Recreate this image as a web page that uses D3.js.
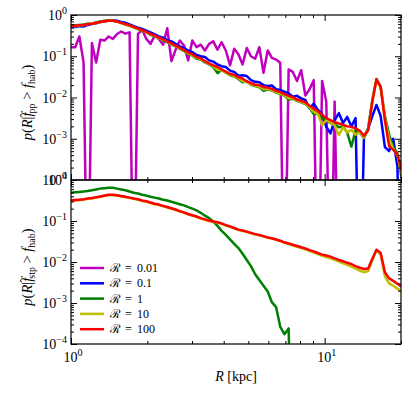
<!DOCTYPE html>
<html>
<head>
<meta charset="utf-8">
<script src="https://cdn.jsdelivr.net/npm/d3@7"></script>
<style>
  body { margin: 0; background: #fff; }
  svg { display: block; font-family: "Liberation Serif", "DejaVu Serif", serif; }
</style>
</head>
<body>
<svg id="chart" width="412" height="396"></svg>
<script>
// galactocentric radius grid, kpc
const radius = [
  1.000, 1.039, 1.079, 1.121, 1.164, 1.209, 1.256, 1.305, 1.355, 1.408,
  1.462, 1.519, 1.578, 1.639, 1.702, 1.768, 1.837, 1.908, 1.982, 2.059,
  2.138, 2.221, 2.307, 2.396, 2.489, 2.585, 2.685, 2.789, 2.897, 3.009,
  3.126, 3.247, 3.373, 3.503, 3.639, 3.780, 3.926, 4.078, 4.236, 4.400,
  4.571, 4.748, 4.932, 5.122, 5.321, 5.527, 5.741, 5.963, 6.194, 6.434,
  6.683, 6.942, 7.211, 7.490, 7.780, 8.082, 8.395, 8.720, 9.057, 9.408,
  9.772, 10.15, 10.54, 10.95, 11.38, 11.82, 12.27, 12.75, 13.24, 13.75,
  14.29, 14.84, 15.42, 16.01, 16.63, 17.28, 17.95, 18.64, 19.36, 20.11
];

// log10 of p(R | ...); null = zero probability
const ppR001 = [
  -0.78, -0.78, -0.52, -1.15, null, -0.68, -1.15, -0.60, -0.62, -0.52,
  -0.58, -0.46, -0.40, -0.45, -0.42, null, -0.46, -0.36, -0.58, -0.70,
  -0.50, -0.58, -0.72, -0.32, -1.12, -0.84, -0.62, -0.74, -1.10, -0.62,
  -0.78, -0.72, -0.86, -0.70, -0.64, -0.84, -0.66, -0.86, -1.22, -0.82,
  -0.95, -1.20, -0.80, -1.00, -1.06, -0.78, -1.40, -0.86, -1.04, -1.08,
  -1.16, null, -1.32, -1.38, -1.60, -1.34, -1.95, -1.80, -1.58, null,
  -1.60, -2.10, null, -2.10, null, null, null, null, null, null,
  null, null, null, null, null, null, null, null, null, null
];
const ppR01 = [
  -0.30, -0.29, -0.27, -0.28, -0.24, -0.22, -0.20, -0.17, -0.16, -0.13,
  -0.13, -0.14, -0.17, -0.19, -0.23, -0.27, -0.31, -0.34, -0.38, -0.42,
  -0.47, -0.52, -0.55, -0.61, -0.64, -0.70, -0.76, -0.80, -0.86, -0.90,
  -0.97, -1.00, -1.02, -1.10, -1.13, -1.20, -1.24, -1.26, -1.35, -1.38,
  -1.47, -1.46, -1.48, -1.58, -1.62, -1.63, -1.70, -1.72, -1.71, -1.80,
  -1.82, -1.86, -1.90, -1.98, -1.96, -2.02, -2.06, -2.26, -2.15, -2.30,
  -2.40, -2.71, -2.87, -2.55, -2.38, -2.62, -2.47, -2.70, -2.50, null,
  -2.95, -2.75, -2.45, -2.18, -2.45, -3.20, -3.30, -3.00, -3.68, null
];
const ppR1 = [
  -0.27, -0.25, -0.24, -0.23, -0.21, -0.21, -0.18, -0.16, -0.14, -0.13,
  -0.14, -0.16, -0.19, -0.23, -0.26, -0.30, -0.34, -0.39, -0.42, -0.48,
  -0.52, -0.56, -0.62, -0.66, -0.72, -0.76, -0.82, -0.87, -0.95, -0.98,
  -1.06, -1.08, -1.15, -1.20, -1.26, -1.41, -1.33, -1.40, -1.46, -1.49,
  -1.55, -1.63, -1.60, -1.69, -1.72, -1.75, -1.84, -1.80, -1.83, -1.88,
  -1.92, -1.95, -2.05, -2.03, -2.08, -2.12, -2.15, -2.25, -2.40, -2.38,
  -2.50, -2.55, -2.62, -2.65, -2.72, -2.70, -2.85, -3.19, -2.80, -2.85,
  -2.98, -2.75, -2.05, -1.55, -1.74, -2.45, -2.90, -3.20, -3.35, -3.95
];
const ppR10 = [
  -0.28, -0.27, -0.25, -0.25, -0.22, -0.21, -0.19, -0.17, -0.15, -0.14,
  -0.14, -0.16, -0.20, -0.23, -0.26, -0.30, -0.34, -0.38, -0.42, -0.47,
  -0.51, -0.56, -0.60, -0.65, -0.71, -0.75, -0.81, -0.86, -0.93, -0.97,
  -1.04, -1.07, -1.13, -1.19, -1.24, -1.33, -1.34, -1.39, -1.45, -1.48,
  -1.53, -1.60, -1.63, -1.68, -1.71, -1.74, -1.80, -1.79, -1.82, -1.87,
  -1.91, -1.94, -2.02, -2.02, -2.07, -2.11, -2.14, -2.24, -2.35, -2.40,
  -2.67, -2.55, -2.60, -2.68, -2.91, -2.72, -2.85, -2.78, -2.90, -2.84,
  -2.97, -2.78, -2.08, -1.57, -1.75, -2.50, -3.00, -3.25, -3.40, -3.85
];
const ppR100 = [
  -0.27, -0.26, -0.25, -0.24, -0.22, -0.21, -0.19, -0.17, -0.15, -0.14,
  -0.14, -0.16, -0.19, -0.22, -0.25, -0.29, -0.33, -0.37, -0.41, -0.46,
  -0.50, -0.55, -0.59, -0.64, -0.69, -0.74, -0.79, -0.85, -0.91, -0.95,
  -1.02, -1.05, -1.12, -1.17, -1.22, -1.26, -1.32, -1.37, -1.43, -1.45,
  -1.51, -1.54, -1.61, -1.65, -1.69, -1.70, -1.75, -1.76, -1.79, -1.84,
  -1.87, -1.92, -1.96, -1.99, -2.05, -2.08, -2.12, -2.20, -2.27, -2.33,
  -2.42, -2.50, -2.55, -2.60, -2.63, -2.66, -2.70, -2.71, -2.75, -2.80,
  -2.93, -2.80, -2.10, -1.56, -1.75, -2.55, -3.18, -3.27, -3.38, -3.78
];

const stpR1 = [
  -0.31, -0.30, -0.29, -0.28, -0.27, -0.25, -0.23, -0.21, -0.20, -0.19,
  -0.19, -0.21, -0.23, -0.25, -0.28, -0.31, -0.33, -0.36, -0.38, -0.41,
  -0.43, -0.45, -0.48, -0.50, -0.53, -0.56, -0.59, -0.62, -0.66, -0.70,
  -0.74, -0.80, -0.87, -0.93, -1.01, -1.12, -1.24, -1.34, -1.45, -1.56,
  -1.66, -1.80, -1.95, -2.10, -2.30, -2.44, -2.58, -2.72, -2.98, -3.10,
  -3.58, -3.76, -3.62, null, null, null, null, null, null, null,
  null, null, null, null, null, null, null, null, null, null,
  null, null, null, null, null, null, null, null, null, null
];
const stpR10 = [
  -0.51, -0.50, -0.49, -0.48, -0.46, -0.45, -0.43, -0.41, -0.39, -0.37,
  -0.37, -0.38, -0.40, -0.42, -0.44, -0.46, -0.48, -0.51, -0.53, -0.56,
  -0.59, -0.61, -0.64, -0.67, -0.70, -0.73, -0.77, -0.80, -0.84, -0.87,
  -0.90, -0.94, -0.97, -1.00, -1.02, -1.04, -1.07, -1.11, -1.14, -1.18,
  -1.22, -1.24, -1.27, -1.30, -1.33, -1.35, -1.38, -1.41, -1.43, -1.46,
  -1.49, -1.53, -1.56, -1.60, -1.63, -1.66, -1.69, -1.73, -1.77, -1.81,
  -1.85, -1.88, -1.91, -1.95, -1.99, -2.03, -2.07, -2.11, -2.16, -2.21,
  -2.25, -2.22, -1.95, -1.71, -1.82, -2.35, -2.52, -2.58, -2.65, -2.72
];
const stpR100 = [
  -0.50, -0.49, -0.48, -0.47, -0.45, -0.44, -0.42, -0.40, -0.38, -0.36,
  -0.36, -0.37, -0.39, -0.41, -0.43, -0.45, -0.47, -0.50, -0.52, -0.55,
  -0.58, -0.60, -0.63, -0.66, -0.69, -0.72, -0.76, -0.79, -0.83, -0.86,
  -0.89, -0.93, -0.96, -0.99, -1.01, -1.03, -1.06, -1.10, -1.13, -1.17,
  -1.21, -1.23, -1.26, -1.29, -1.32, -1.34, -1.37, -1.40, -1.42, -1.45,
  -1.48, -1.52, -1.55, -1.58, -1.61, -1.64, -1.67, -1.71, -1.74, -1.78,
  -1.82, -1.84, -1.87, -1.91, -1.95, -1.98, -2.02, -2.05, -2.10, -2.14,
  -2.17, -2.16, -1.92, -1.70, -1.78, -2.25, -2.40, -2.46, -2.53, -2.60
];

const legendLabels = ['0.01', '0.1', '1', '10', '100'];
const colors = ['#bf00bf', '#0000ff', '#008000', '#bfbf00', '#ff0000'];

const xMajor = [1, 10];
const xMinor = [2, 3, 4, 5, 6, 7, 8, 9, 20];
const yMajor = [1e-4, 1e-3, 1e-2, 1e-1, 1];
const yMinor = [];
[-4, -3, -2, -1].forEach(e => [2, 3, 4, 5, 6, 7, 8, 9].forEach(k => yMinor.push(k * Math.pow(10, e))));

const left = 71, right = 401;
const panels = [
  { top: 15, bottom: 180, series: [ppR001, ppR01, ppR1, ppR10, ppR100], colors: colors,
    sub: 'pp' },
  { top: 180, bottom: 344, series: [stpR1, stpR10, stpR100], colors: colors.slice(2),
    sub: 'stp' }
];

const svg = d3.select('#chart');

const x = d3.scaleLog().domain([1, 20]).range([left, right]);

panels.forEach((p, pi) => {
  const y = d3.scaleLog().domain([1e-4, 1]).range([p.bottom, p.top]);
  const g = svg.append('g');

  g.append('clipPath').attr('id', 'clip' + pi)
    .append('rect')
      .attr('x', left).attr('y', p.top)
      .attr('width', right - left).attr('height', p.bottom - p.top);

  const line = d3.line()
    .x((d, i) => x(radius[i]))
    .y(d => d === null ? p.bottom + 150 : y(Math.pow(10, d)));

  g.append('g').attr('clip-path', `url(#clip${pi})`)
    .selectAll('path')
    .data(p.series)
    .join('path')
      .attr('d', line)
      .attr('fill', 'none')
      .attr('stroke', (d, i) => p.colors[i])
      .attr('stroke-width', 2.5)
      .attr('stroke-linejoin', 'round');

  // ticks pointing inward on all four sides
  const axes = [
    [d3.axisBottom, x, xMajor, xMinor, `translate(0,${p.bottom})`],
    [d3.axisTop, x, xMajor, xMinor, `translate(0,${p.top})`],
    [d3.axisLeft, y, yMajor, yMinor, `translate(${left},0)`],
    [d3.axisRight, y, yMajor, yMinor, `translate(${right},0)`]
  ];
  axes.forEach(([axis, scale, major, minor, tr]) => {
    [[major, -6], [minor, -3]].forEach(([vals, size]) => {
      g.append('g')
        .attr('transform', tr)
        .call(axis(scale).tickValues(vals).tickSize(size).tickFormat(''))
        .call(a => a.select('.domain').remove())
        .selectAll('line').attr('stroke', '#000');
    });
  });

  g.append('rect')
    .attr('x', left).attr('y', p.top)
    .attr('width', right - left).attr('height', p.bottom - p.top)
    .attr('fill', 'none').attr('stroke', '#000').attr('stroke-width', 1.2);

  g.selectAll('text.ylab')
    .data(yMajor)
    .join('text')
      .attr('class', 'ylab')
      .attr('x', 67)
      .attr('y', d => y(d) + 5)
      .attr('text-anchor', 'end')
      .attr('font-size', 14)
      .each(function (d) { powText(d3.select(this), Math.round(Math.log10(d))); });

  // y-axis title
  const t = svg.append('text')
    .attr('transform', `translate(32,${(p.top + p.bottom) / 2 + 5}) rotate(-90)`)
    .attr('text-anchor', 'middle')
    .attr('font-size', 14.5);
  t.append('tspan').attr('font-style', 'italic').text('p');
  t.append('tspan').text('(');
  t.append('tspan').attr('font-style', 'italic').text('R');
  t.append('tspan').text('|');
  t.append('tspan').attr('font-style', 'italic').text('f');
  t.append('tspan').attr('dx', -5).attr('dy', -3).attr('font-size', 12).text('\u02C6');
  t.append('tspan').attr('font-size', 10).attr('dy', 6).text(p.sub);
  t.append('tspan').attr('dy', -3).text(' > ');
  t.append('tspan').attr('font-style', 'italic').text('f');
  t.append('tspan').attr('font-size', 10).attr('dy', 3).text('hab');
  t.append('tspan').attr('dy', -3).text(')');
});

function powText(t, e) {
  t.append('tspan').text('10');
  t.append('tspan').attr('dy', -6).attr('font-size', 10)
    .text(e < 0 ? '\u2212' + (-e) : String(e));
}

svg.selectAll('text.xlab')
  .data(xMajor)
  .join('text')
    .attr('class', 'xlab')
    .attr('x', d => x(d) + 2)
    .attr('y', 362)
    .attr('text-anchor', 'middle')
    .attr('font-size', 14)
    .each(function (d) { powText(d3.select(this), Math.round(Math.log10(d))); });

const xt = svg.append('text')
  .attr('x', 236).attr('y', 381)
  .attr('text-anchor', 'middle')
  .attr('font-size', 14);
xt.append('tspan').attr('font-style', 'italic').text('R');
xt.append('tspan').text(' [kpc]');

// legend
const legend = svg.append('g');
const rows = legend.selectAll('g')
  .data(legendLabels)
  .join('g')
    .attr('transform', (d, i) => `translate(0,${268 + i * 15.3})`);
rows.append('line')
  .attr('x1', 80).attr('x2', 104)
  .attr('stroke', (d, i) => colors[i])
  .attr('stroke-width', 2.5);
rows.append('text').attr('x', 110).attr('y', 4).attr('font-size', 12).text('\u211B');
rows.append('text').attr('x', 125).attr('y', 4).attr('font-size', 12).text('=');
rows.append('text').attr('x', 137).attr('y', 4).attr('font-size', 12).text(d => d);
</script>
</body>
</html>
